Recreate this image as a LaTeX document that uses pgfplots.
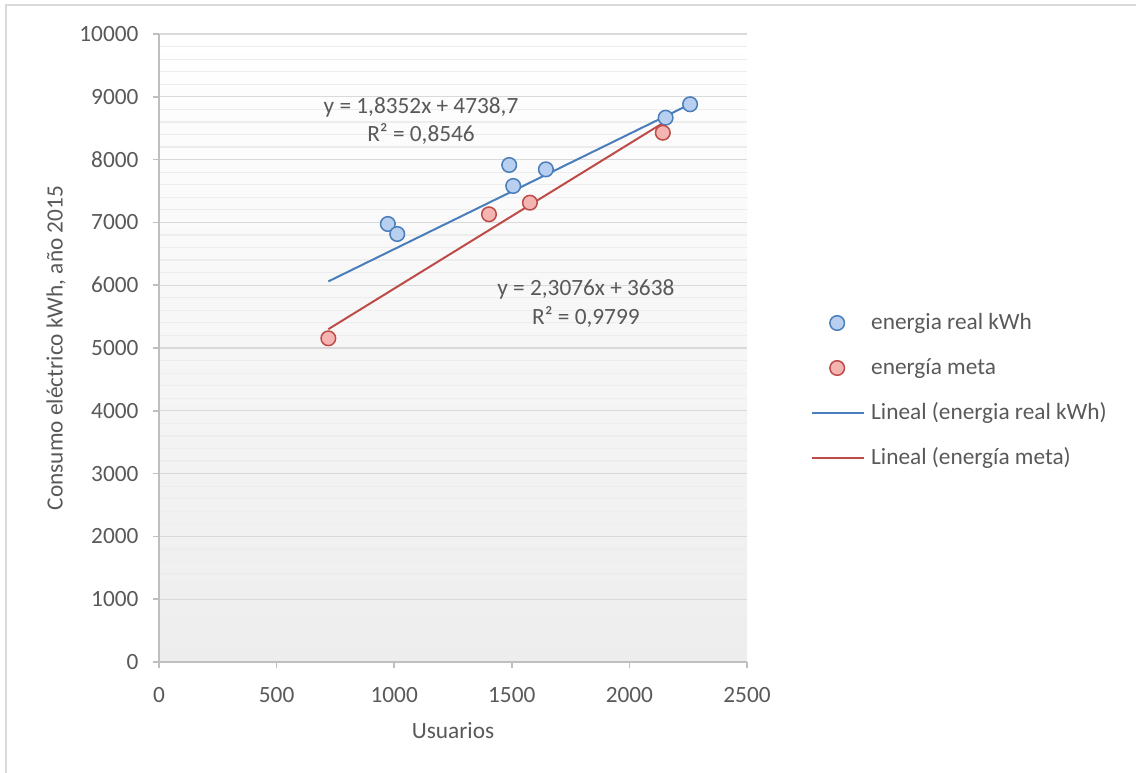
\documentclass[border=0pt]{standalone}
\usepackage{pgfplots}
\pgfplotsset{compat=1.18}
\usepackage{fontspec}
\setmainfont{Carlito}
\definecolor{txt}{HTML}{595959}
\definecolor{gridmaj}{HTML}{D9D9D9}
\definecolor{gridmin}{HTML}{EDEDED}
\definecolor{axl}{HTML}{BFBFBF}
\definecolor{bluel}{HTML}{4A7EBB}
\definecolor{bluef}{HTML}{B9CFEF}
\definecolor{redl}{HTML}{BE4B48}
\definecolor{redf}{HTML}{F4B4B2}
\pgfplotsset{
  marklegend/.style={legend image code/.code={\path (0pt,0pt) (52pt,0pt); \draw[##1] plot coordinates {(25pt,0pt)};}},
  linelegend/.style={legend image code/.code={\draw[##1] (0pt,0pt) -- (52pt,0pt);}},
}
\begin{document}
\begin{tikzpicture}[x=1pt,y=1pt]
\useasboundingbox (-159,-111) rectangle (977,662);
\draw[gridmaj, line width=1.5pt] (-153,-130) -- (-153,657) -- (990,657);
\begin{axis}[
  at={(0,0)}, anchor=south west,
  scale only axis, width=588pt, height=628pt,
  xmin=0, xmax=2500, ymin=0, ymax=10000,
  xtick={0,500,...,2500}, ytick={0,1000,...,10000},
  minor y tick num=4,
  ymajorgrids, yminorgrids,
  major grid style={gridmaj, line width=1.2pt},
  minor grid style={gridmin, line width=1.2pt},
  axis x line*=bottom, axis y line*=left,
  axis line style={axl, line width=1.5pt},
  tick align=outside, major tick length=6pt, minor tick length=0pt,
  tick style={axl, line width=1.5pt},
  axis background/.style={shade, top color=white, bottom color=black!7},
  font=\fontsize{23.3}{28.4}\selectfont,
  every tick label/.append style={text=txt},
  xticklabel style={yshift=-16pt},
  yticklabel style={xshift=-11pt},
  scaled ticks=false,
  /pgf/number format/1000 sep={},
  /pgf/number format/assume math mode=true,
  xlabel={Usuarios},
  ylabel={Consumo eléctrico kWh, año 2015},
  xlabel style={at={(axis description cs:0.5,0)}, anchor=center, yshift=-69pt, text=txt},
  ylabel style={at={(axis description cs:0,0.5)}, anchor=center, yshift=103pt, text=txt},
  legend style={draw=none, fill=none, at={(axis description cs:1.1037,0.4323)}, anchor=west,
    row sep=23pt, column sep=6pt, text=txt,
    nodes={inner sep=0pt, text height=17pt, text depth=5pt}},
  legend cell align=left,
  clip=false,
]
\addplot[only marks, mark=*, mark size=7.3pt, mark options={fill=bluef, draw=bluel, line width=1.5pt}, marklegend]
  coordinates {(973,6975) (1013,6815) (1489,7914) (1506,7580) (1645,7845) (2154,8667) (2258,8881)};
\addlegendentry{energia real kWh}
\addplot[only marks, mark=*, mark size=7.3pt, mark options={fill=redf, draw=redl, line width=1.5pt}, marklegend]
  coordinates {(720,5154) (1403,7129) (1577,7314) (2142,8428)};
\addlegendentry{energía meta}
\addplot[bluel, line width=2pt, linelegend]
  coordinates {(720,6060.1) (2258,8882.6)};
\addlegendentry{Lineal (energia real kWh)}
\addplot[redl, line width=2pt, linelegend]
  coordinates {(720,5299.5) (2142,8581.0)};
\addlegendentry{Lineal (energía meta)}
\node[align=center, text=txt] at (axis cs:1114,8615) {y = 1,8352x + 4738,7\\R² = 0,8546};
\node[align=center, text=txt] at (axis cs:1815,5709) {y = 2,3076x + 3638\\R² = 0,9799};
\end{axis}
\end{tikzpicture}
\end{document}
